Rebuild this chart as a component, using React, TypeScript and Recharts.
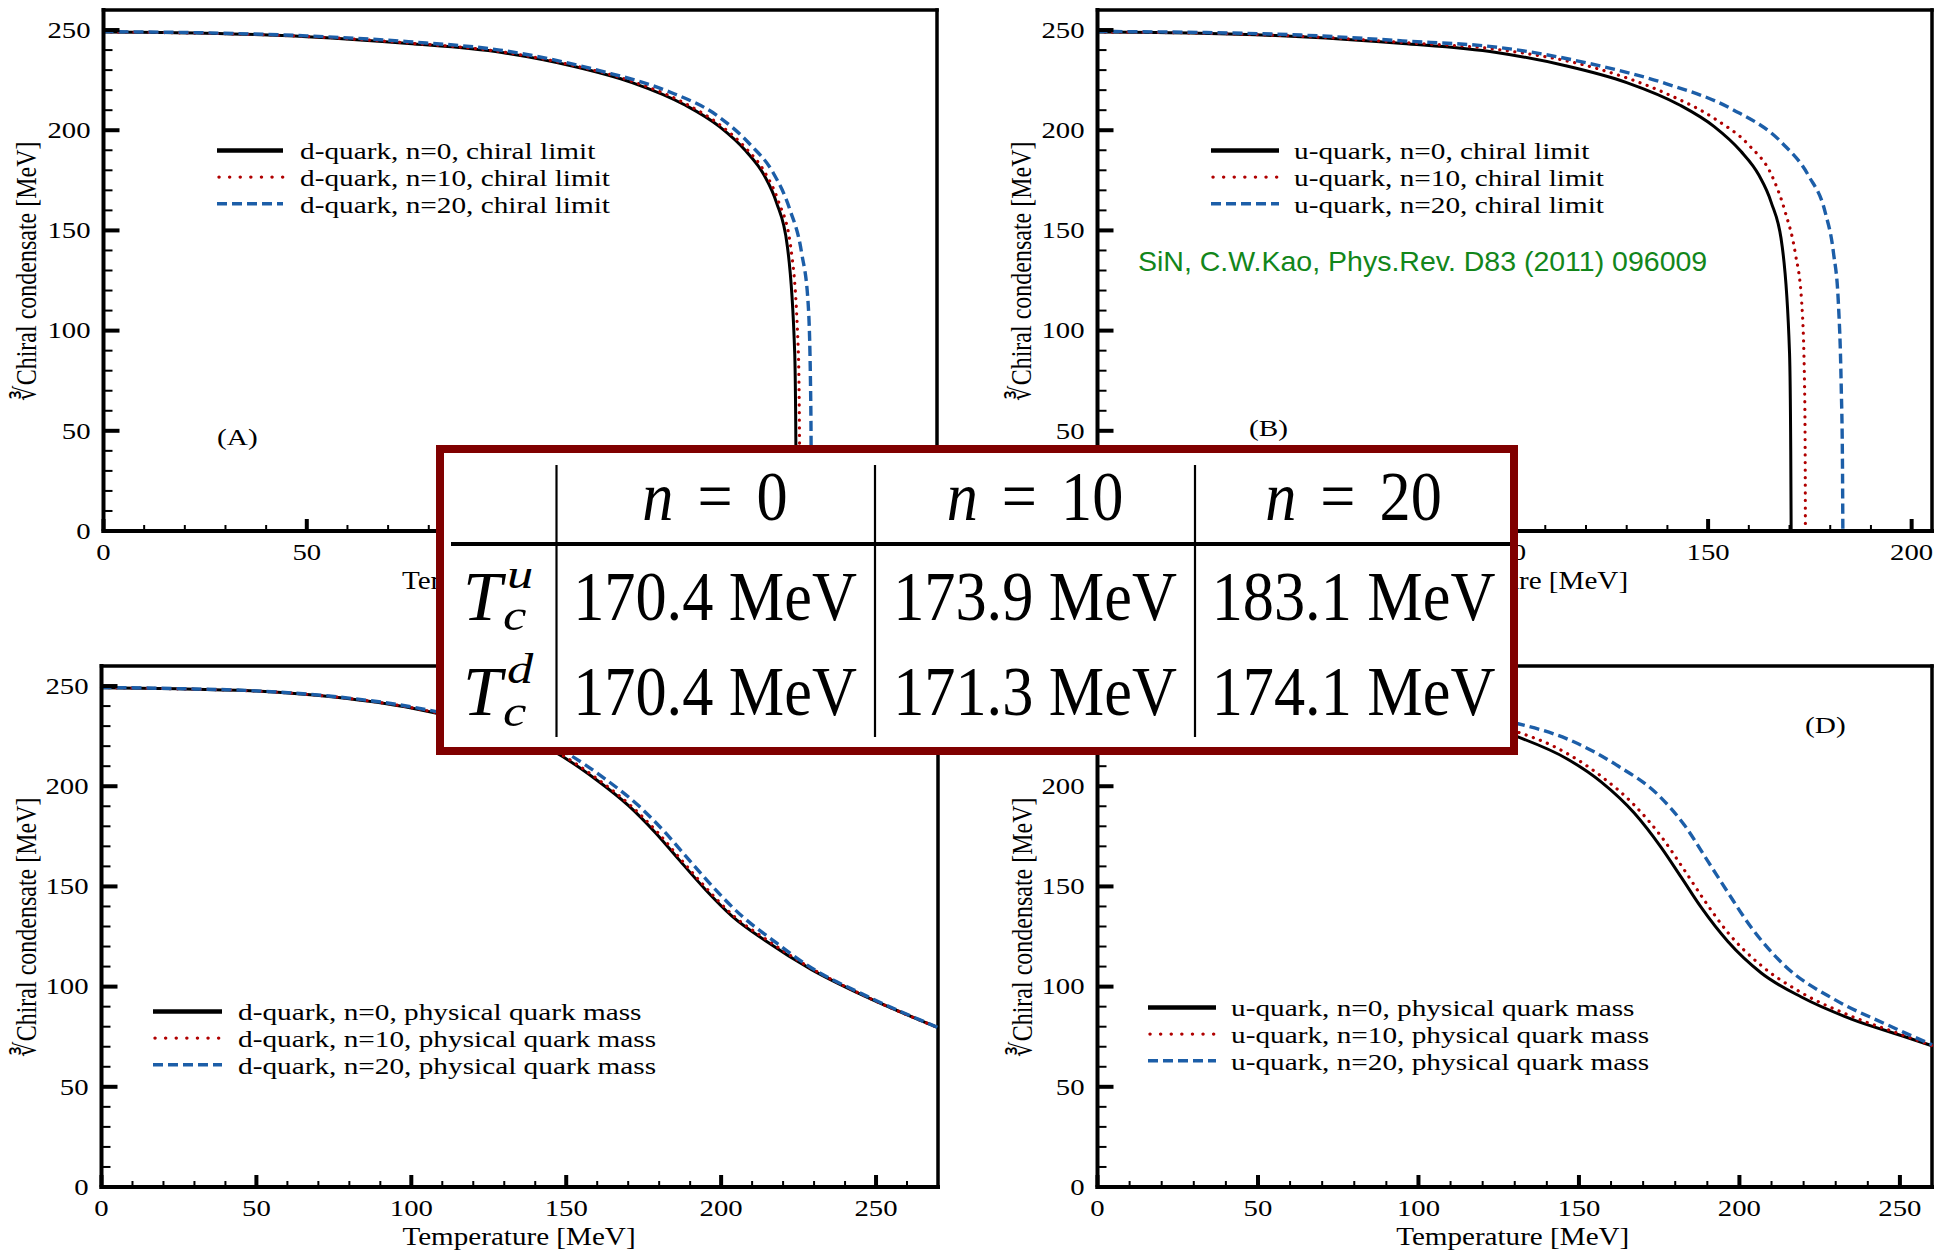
import React from 'react';
import { LineChart, Line, XAxis, YAxis, ReferenceLine, Legend } from 'recharts';

const SERIF = '"Liberation Serif", "Times New Roman", Times, serif';
const SANS = '"Liberation Sans", Arial, sans-serif';

// [temperature MeV, cube-root condensate MeV]
// chiral limit, n=0 is the same curve for u and d (Tc = 170.4)
const chiralN0 = [[0, 249], [25, 248.4], [50, 246.7], [75, 243.3], [98, 238.8], [115, 232.2], [130, 223.8], [143, 212.6], [151.5, 201.8], [158, 189.6], [162.5, 177.5], [165.5, 164], [168.2, 142], [170, 89], [170.3, 40], [170.4, 0]];
const dChiralN10 = [[0, 249], [25, 248.4], [50, 246.8], [75, 243.5], [98, 239.1], [115, 232.6], [130, 224.4], [143, 213.4], [151.5, 202.8], [158, 191], [162.5, 179.5], [166, 164.5], [169, 142], [170.9, 89], [171.2, 40], [171.3, 0]];
const dChiralN20 = [[0, 249.2], [25, 248.6], [50, 247.1], [75, 244.2], [97.5, 240], [122, 229.7], [138.5, 219.7], [151, 207.2], [159, 193], [164.7, 178.8], [168.8, 160.5], [171.7, 138.8], [173.3, 113.8], [173.9, 72], [174.05, 35], [174.1, 0]];
const uChiralN10 = [[0, 249], [25, 248.5], [50, 246.9], [75, 243.8], [98.7, 240.2], [123.2, 230.5], [139.6, 218.4], [151.8, 205.5], [160, 192.6], [165.7, 177.2], [169, 158.8], [171.4, 138.8], [173, 113.8], [173.7, 72], [173.85, 35], [173.9, 0]];
const uChiralN20 = [[0, 249.3], [25, 248.8], [50, 247.5], [75, 244.6], [98.7, 241.3], [123.2, 232.2], [139.6, 223.3], [155.9, 210.5], [168.1, 193.8], [174.7, 177.2], [178.8, 158.8], [180.8, 138.8], [182, 113.8], [182.7, 72], [183, 35], [183.1, 0]];

// physical quark mass
const dPhysN0 = [[0, 249.2], [25, 248.6], [50, 247.5], [75, 244.5], [100, 239], [125, 229.5], [146.6, 216.8], [159.5, 203.5], [170.2, 190.2], [178.8, 176.8], [186.3, 163.5], [194.9, 148.5], [203.5, 135.2], [214.2, 123], [229.2, 108.5], [245.3, 96], [270, 79.5]];
const dPhysN10 = [[0, 249.2], [25, 248.6], [50, 247.5], [75, 244.6], [100, 239.2], [125, 229.9], [147.3, 216.8], [160.2, 203.5], [170.9, 190.2], [179.6, 176.8], [187, 163.5], [195.6, 148.5], [204.1, 135.2], [214.8, 123.3], [229.3, 108.9], [245.3, 96.1], [270, 79.5]];
const dPhysN20 = [[0, 249.3], [25, 248.7], [50, 247.6], [75, 244.8], [100, 239.6], [125, 230.8], [149.8, 216.8], [162.7, 203.5], [173.4, 190.2], [182, 176.8], [189.5, 163.5], [198.1, 148.5], [206.7, 135.2], [216.4, 123.5], [229.2, 109.3], [245.3, 96.5], [270, 79.6]];
const uPhysN0 = [[0, 249.2], [25, 248.6], [50, 247.4], [75, 244.3], [100, 238.6], [115, 233], [130, 225.2], [146.5, 213.5], [156.9, 202.2], [167.3, 186.5], [175.6, 169.5], [181.9, 154.5], [188.1, 139.5], [196.4, 122.5], [206.8, 106.8], [219.3, 94.8], [234.9, 83.8], [250.6, 75.5], [260, 70.5]];
const uPhysN10 = [[0, 249.2], [25, 248.6], [50, 247.5], [75, 244.6], [100, 239.4], [115, 234.3], [130, 227.5], [142.3, 219.8], [156.9, 205], [167.3, 190.5], [175.6, 175], [182.9, 158], [189.1, 143], [196.4, 127], [206.8, 110.5], [219.3, 97], [234.9, 85.2], [250.6, 76], [260, 70.5]];
const uPhysN20 = [[0, 249.3], [25, 248.8], [50, 247.8], [75, 245.2], [100, 240.6], [115, 236.5], [130, 231.6], [146.5, 223.5], [162.1, 210.2], [174.6, 195.8], [182.9, 180.5], [190.2, 162.5], [196.4, 147], [203.7, 129.5], [214.1, 110.5], [229.7, 93.5], [245.3, 81.5], [260, 71]];

const yTicks = [0, 10, 20, 30, 40, 50, 60, 70, 80, 90, 100, 110, 120, 130, 140, 150, 160, 170, 180, 190, 200, 210, 220, 230, 240, 250];
const xTicksChiral = [0, 10, 20, 30, 40, 50, 60, 70, 80, 90, 100, 110, 120, 130, 140, 150, 160, 170, 180, 190, 200];
const xTicksC = [0, 10, 20, 30, 40, 50, 60, 70, 80, 90, 100, 110, 120, 130, 140, 150, 160, 170, 180, 190, 200, 210, 220, 230, 240, 250, 260, 270];
const xTicksD = [0, 10, 20, 30, 40, 50, 60, 70, 80, 90, 100, 110, 120, 130, 140, 150, 160, 170, 180, 190, 200, 210, 220, 230, 240, 250, 260];

const legendA = ['d-quark, n=0, chiral limit', 'd-quark, n=10, chiral limit', 'd-quark, n=20, chiral limit'];
const legendB = ['u-quark, n=0, chiral limit', 'u-quark, n=10, chiral limit', 'u-quark, n=20, chiral limit'];
const legendC = ['d-quark, n=0, physical quark mass', 'd-quark, n=10, physical quark mass', 'd-quark, n=20, physical quark mass'];
const legendD = ['u-quark, n=0, physical quark mass', 'u-quark, n=10, physical quark mass', 'u-quark, n=20, physical quark mass'];

const tableN = ['0', '10', '20'];
const tcU = ['170.4', '173.9', '183.1'];
const tcD = ['170.4', '171.3', '174.1'];

const seriesStyle = [
  { stroke: '#000000', width: 3, legendWidth: 4.5, dash: undefined as string | undefined, legendDash: undefined as string | undefined, cap: 'butt' as const },
  { stroke: '#b00000', width: 3.2, legendWidth: 3.4, dash: '0.1 7.5', legendDash: '0.1 10.5', cap: 'round' as const },
  { stroke: '#1c5ea8', width: 3.4, legendWidth: 3.6, dash: '10 5', legendDash: '10 5', cap: 'butt' as const },
];

const pts = (a: number[][]) => a.map(([t, v]) => ({ t, v }));

const Y_AXIS_W = 60;
const X_AXIS_H = 40;

const XTick = (props: any) => {
  const { x, y, payload } = props;
  const major = payload.value % 50 === 0;
  return (
    <g>
      <line x1={x} x2={x} y1={y} y2={y - (major ? 12 : 6)} stroke="#000" strokeWidth={major ? 4 : 2} />
      {major && (
        <text transform={`translate(${x},${y + 29}) scale(1.25,1)`} textAnchor="middle" fontSize={23} fontFamily={SERIF} fill="#000">
          {payload.value}
        </text>
      )}
    </g>
  );
};

const YTick = (props: any) => {
  const { x, y, payload } = props;
  const major = payload.value % 50 === 0;
  return (
    <g>
      <line x1={x} x2={x + (major ? 16 : 9)} y1={y} y2={y} stroke="#000" strokeWidth={major ? 4 : 2} />
      {major && (
        <text transform={`translate(${x - 13},${y}) scale(1.25,1)`} dy="0.34em" textAnchor="end" fontSize={23} fontFamily={SERIF} fill="#000">
          {payload.value}
        </text>
      )}
    </g>
  );
};

const LegendBox = ({ labels, lineLen, gap }: { labels: string[]; lineLen: number; gap: number }) => (
  <svg width={lineLen + gap + 440} height={82} style={{ display: 'block', overflow: 'visible' }}>
    {labels.map((lab, i) => {
      const cy = 13.4 + i * 26.7;
      const s = seriesStyle[i];
      return (
        <g key={lab}>
          <line x1={i === 1 ? 2 : 0} x2={lineLen} y1={cy} y2={cy} stroke={s.stroke} strokeWidth={s.legendWidth} strokeDasharray={s.legendDash} strokeLinecap={s.cap} />
          <text transform={`translate(${lineLen + gap},${cy + 8.7}) scale(1.22,1)`} fontSize={24} fontFamily={SERIF} fill="#000">
            {lab}
          </text>
        </g>
      );
    })}
  </svg>
);

type PanelProps = {
  left: number;
  top: number;
  width: number;
  height: number;
  plotLeft: number;
  plotTop: number;
  plotRight: number;
  plotBottom: number;
  xMax: number;
  xTicks: number[];
  series: number[][][];
  legendLabels: string[];
  legendLeft: number;
  legendTop: number;
  lineLen: number;
  gap: number;
};

function Panel(p: PanelProps) {
  const frame = { stroke: '#000', strokeWidth: 4, strokeLinecap: 'square' as const };
  const margin = {
    top: p.plotTop,
    left: p.plotLeft - Y_AXIS_W,
    right: p.width - p.plotRight,
    bottom: p.height - p.plotBottom - X_AXIS_H,
  };
  return (
    <div style={{ position: 'absolute', left: p.left, top: p.top }}>
      <LineChart width={p.width} height={p.height} margin={margin}>
        <XAxis
          type="number"
          dataKey="t"
          domain={[0, p.xMax]}
          ticks={p.xTicks}
          interval={0}
          height={X_AXIS_H}
          tickSize={0}
          tickMargin={0}
          tickLine={false}
          axisLine={frame}
          tick={(tp: any) => <XTick {...tp} />}
        />
        <YAxis
          type="number"
          domain={[0, 260]}
          ticks={yTicks}
          interval={0}
          width={Y_AXIS_W}
          tickSize={0}
          tickMargin={0}
          tickLine={false}
          axisLine={frame}
          tick={(tp: any) => <YTick {...tp} />}
        />
        <ReferenceLine y={260} stroke="#000" strokeWidth={3.5} strokeLinecap="square" />
        <ReferenceLine x={p.xMax} stroke="#000" strokeWidth={3.5} strokeLinecap="square" />
        {p.series.map((d, i) => (
          <Line
            key={`s-${i}`}
            data={pts(d)}
            dataKey="v"
            type="monotone"
            stroke={seriesStyle[i].stroke}
            strokeWidth={seriesStyle[i].width}
            strokeDasharray={seriesStyle[i].dash}
            strokeLinecap={seriesStyle[i].cap}
            dot={false}
            activeDot={false}
            isAnimationActive={false}
          />
        ))}
        <Legend
          layout="vertical"
          align="center"
          verticalAlign="middle"
          wrapperStyle={{ left: p.legendLeft, top: p.legendTop, width: 'auto' }}
          content={() => <LegendBox labels={p.legendLabels} lineLen={p.lineLen} gap={p.gap} />}
        />
      </LineChart>
    </div>
  );
}

const YTitle = ({ x, y }: { x: number; y: number }) => (
  <text transform={`translate(${x},${y}) rotate(-90) scale(1,1.22)`} textAnchor="middle" fontSize={24} fontFamily={SERIF} fill="#000">
    ∛Chiral condensate [MeV]
  </text>
);

const XTitle = ({ x, y }: { x: number; y: number }) => (
  <text transform={`translate(${x},${y}) scale(1.12,1)`} textAnchor="middle" fontSize={26} fontFamily={SERIF} fill="#000">
    Temperature [MeV]
  </text>
);

const Tag = ({ x, y, s }: { x: number; y: number; s: string }) => (
  <text transform={`translate(${x},${y}) scale(1.22,1)`} fontSize={24} fontFamily={SERIF} fill="#000">
    {s}
  </text>
);

function TcTable() {
  const colX = [715, 1035, 1353.5];
  const rows = [
    { sup: 'u', vals: tcU, base: 620, supBase: 588, subBase: 630 },
    { sup: 'd', vals: tcD, base: 715, supBase: 683, subBase: 726 },
  ];
  return (
    <div
      style={{
        position: 'absolute',
        left: 436,
        top: 445,
        width: 1082,
        height: 310,
        boxSizing: 'border-box',
        border: '8px solid #800000',
        background: '#fff',
      }}
    >
      <svg width={1082} height={310} style={{ position: 'absolute', left: -8, top: -8, overflow: 'visible' }}>
        <g transform="translate(-436,-445)" fontFamily={SERIF} fill="#000">
          {[556.5, 875, 1195].map((x) => (
            <line key={`v-${x}`} x1={x} x2={x} y1={465} y2={737} stroke="#000" strokeWidth={2.2} />
          ))}
          <line x1={451} x2={1510} y1={544} y2={544} stroke="#000" strokeWidth={4} />
          {tableN.map((n, i) => (
            <text key={`h-${n}`} transform={`translate(${colX[i]},520) scale(0.89,1)`} textAnchor="middle" fontSize={70}>
              <tspan fontStyle="italic">n</tspan>
              <tspan dx={27}>=</tspan>
              <tspan dx={27}>{n}</tspan>
            </text>
          ))}
          {rows.map((r) => (
            <g key={`r-${r.sup}`}>
              <text x={463} y={r.base} fontSize={70} fontStyle="italic">T</text>
              <text transform={`translate(507,${r.supBase}) scale(1.25,1)`} fontSize={42} fontStyle="italic">{r.sup}</text>
              <text transform={`translate(503,${r.subBase}) scale(1.2,1)`} fontSize={44} fontStyle="italic">c</text>
              {r.vals.map((v, i) => (
                <text key={`c-${r.sup}-${i}`} transform={`translate(${colX[i]},${r.base}) scale(0.89,1)`} textAnchor="middle" fontSize={70}>
                  {v} MeV
                </text>
              ))}
            </g>
          ))}
        </g>
      </svg>
    </div>
  );
}

export default function App() {
  return (
    <div style={{ position: 'absolute', left: 0, top: 0, width: 1943, height: 1250, background: '#fff', overflow: 'hidden' }}>
      <Panel
        left={0}
        top={0}
        width={970}
        height={600}
        plotLeft={103.5}
        plotTop={10}
        plotRight={937}
        plotBottom={531}
        xMax={205}
        xTicks={xTicksChiral}
        series={[chiralN0, dChiralN10, dChiralN20]}
        legendLabels={legendA}
        legendLeft={217}
        legendTop={136.6}
        lineLen={66}
        gap={17}
      />
      <Panel
        left={980}
        top={0}
        width={963}
        height={600}
        plotLeft={117.5}
        plotTop={10}
        plotRight={952}
        plotBottom={531}
        xMax={205}
        xTicks={xTicksChiral}
        series={[chiralN0, uChiralN10, uChiralN20]}
        legendLabels={legendB}
        legendLeft={231}
        legendTop={136.6}
        lineLen={68}
        gap={15}
      />
      <Panel
        left={0}
        top={640}
        width={970}
        height={610}
        plotLeft={101.5}
        plotTop={26}
        plotRight={938}
        plotBottom={547}
        xMax={270}
        xTicks={xTicksC}
        series={[dPhysN0, dPhysN10, dPhysN20]}
        legendLabels={legendC}
        legendLeft={153}
        legendTop={358.2}
        lineLen={69}
        gap={16}
      />
      <Panel
        left={980}
        top={640}
        width={963}
        height={610}
        plotLeft={117.5}
        plotTop={26}
        plotRight={952}
        plotBottom={547}
        xMax={260}
        xTicks={xTicksD}
        series={[uPhysN0, uPhysN10, uPhysN20]}
        legendLabels={legendD}
        legendLeft={168}
        legendTop={354.3}
        lineLen={68}
        gap={15}
      />
      <svg width={1943} height={1250} style={{ position: 'absolute', left: 0, top: 0, pointerEvents: 'none' }}>
        <YTitle x={36} y={271} />
        <YTitle x={1030.5} y={271} />
        <YTitle x={36} y={927} />
        <YTitle x={1032} y={927} />
        <XTitle x={518.5} y={589} />
        <XTitle x={1511.5} y={589} />
        <XTitle x={519} y={1245} />
        <XTitle x={1512.7} y={1245} />
        <Tag x={217} y={445} s="(A)" />
        <Tag x={1249} y={436} s="(B)" />
        <Tag x={1805} y={733} s="(D)" />
        <text x={1138} y={271} fontSize={28.5} fontFamily={SANS} fill="#12861a">
          SiN, C.W.Kao, Phys.Rev. D83 (2011) 096009
        </text>
      </svg>
      <TcTable />
    </div>
  );
}
